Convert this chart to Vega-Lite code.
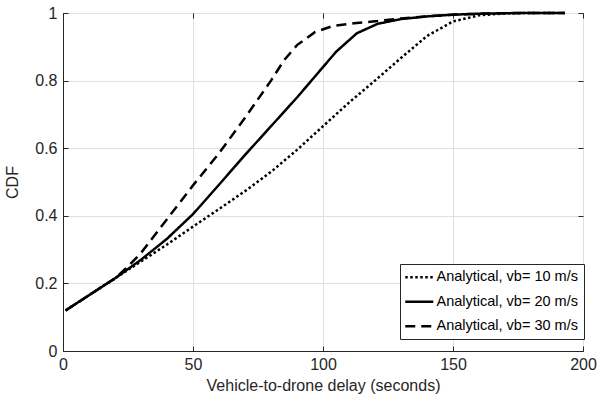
{
  "$schema": "https://vega.github.io/schema/vega-lite/v6.json",
  "width": 520,
  "height": 338,
  "autosize": {"type": "none"},
  "padding": {"left": 63, "top": 13, "right": 27, "bottom": 52},
  "background": "white",
  "config": {
    "font": "Liberation Sans",
    "view": {"stroke": "#262626", "strokeWidth": 1},
    "axis": {
      "domainColor": "#262626",
      "tickColor": "#262626",
      "labelColor": "#262626",
      "titleColor": "#262626",
      "gridColor": "#dfdfdf",
      "gridWidth": 1,
      "labelFont": "Liberation Sans",
      "titleFont": "Liberation Sans",
      "labelFontSize": 16,
      "titleFontSize": 16,
      "titleFontWeight": "normal",
      "tickSize": -5,
      "labelFlush": false
    },
    "legend": {
      "labelFont": "Liberation Sans",
      "labelFontSize": 14.5,
      "labelColor": "#000000"
    }
  },
  "data": {
    "values": [
      {"s": "Analytical, vb= 10 m/s", "x": 1, "y": 0.12},
      {"s": "Analytical, vb= 10 m/s", "x": 10, "y": 0.165},
      {"s": "Analytical, vb= 10 m/s", "x": 20, "y": 0.215},
      {"s": "Analytical, vb= 10 m/s", "x": 30, "y": 0.265},
      {"s": "Analytical, vb= 10 m/s", "x": 40, "y": 0.315},
      {"s": "Analytical, vb= 10 m/s", "x": 50, "y": 0.368},
      {"s": "Analytical, vb= 10 m/s", "x": 60, "y": 0.42},
      {"s": "Analytical, vb= 10 m/s", "x": 70, "y": 0.473},
      {"s": "Analytical, vb= 10 m/s", "x": 80, "y": 0.53},
      {"s": "Analytical, vb= 10 m/s", "x": 90, "y": 0.595},
      {"s": "Analytical, vb= 10 m/s", "x": 100, "y": 0.665},
      {"s": "Analytical, vb= 10 m/s", "x": 110, "y": 0.735},
      {"s": "Analytical, vb= 10 m/s", "x": 120, "y": 0.8},
      {"s": "Analytical, vb= 10 m/s", "x": 130, "y": 0.867},
      {"s": "Analytical, vb= 10 m/s", "x": 140, "y": 0.932},
      {"s": "Analytical, vb= 10 m/s", "x": 150, "y": 0.975},
      {"s": "Analytical, vb= 10 m/s", "x": 160, "y": 0.993},
      {"s": "Analytical, vb= 10 m/s", "x": 170, "y": 0.999},
      {"s": "Analytical, vb= 10 m/s", "x": 180, "y": 1},
      {"s": "Analytical, vb= 10 m/s", "x": 193, "y": 1},
      {"s": "Analytical, vb= 20 m/s", "x": 1, "y": 0.12},
      {"s": "Analytical, vb= 20 m/s", "x": 10, "y": 0.165},
      {"s": "Analytical, vb= 20 m/s", "x": 20, "y": 0.215},
      {"s": "Analytical, vb= 20 m/s", "x": 30, "y": 0.27},
      {"s": "Analytical, vb= 20 m/s", "x": 40, "y": 0.332},
      {"s": "Analytical, vb= 20 m/s", "x": 50, "y": 0.405},
      {"s": "Analytical, vb= 20 m/s", "x": 60, "y": 0.492},
      {"s": "Analytical, vb= 20 m/s", "x": 70, "y": 0.58},
      {"s": "Analytical, vb= 20 m/s", "x": 80, "y": 0.665},
      {"s": "Analytical, vb= 20 m/s", "x": 90, "y": 0.75},
      {"s": "Analytical, vb= 20 m/s", "x": 100, "y": 0.84},
      {"s": "Analytical, vb= 20 m/s", "x": 105, "y": 0.885},
      {"s": "Analytical, vb= 20 m/s", "x": 113, "y": 0.94},
      {"s": "Analytical, vb= 20 m/s", "x": 121, "y": 0.968},
      {"s": "Analytical, vb= 20 m/s", "x": 130, "y": 0.982},
      {"s": "Analytical, vb= 20 m/s", "x": 140, "y": 0.99},
      {"s": "Analytical, vb= 20 m/s", "x": 150, "y": 0.995},
      {"s": "Analytical, vb= 20 m/s", "x": 160, "y": 0.998},
      {"s": "Analytical, vb= 20 m/s", "x": 175, "y": 1},
      {"s": "Analytical, vb= 20 m/s", "x": 193, "y": 1},
      {"s": "Analytical, vb= 30 m/s", "x": 1, "y": 0.12},
      {"s": "Analytical, vb= 30 m/s", "x": 10, "y": 0.165},
      {"s": "Analytical, vb= 30 m/s", "x": 20, "y": 0.215},
      {"s": "Analytical, vb= 30 m/s", "x": 25, "y": 0.25},
      {"s": "Analytical, vb= 30 m/s", "x": 30, "y": 0.29},
      {"s": "Analytical, vb= 30 m/s", "x": 40, "y": 0.39},
      {"s": "Analytical, vb= 30 m/s", "x": 50, "y": 0.49},
      {"s": "Analytical, vb= 30 m/s", "x": 60, "y": 0.585},
      {"s": "Analytical, vb= 30 m/s", "x": 70, "y": 0.69},
      {"s": "Analytical, vb= 30 m/s", "x": 80, "y": 0.8},
      {"s": "Analytical, vb= 30 m/s", "x": 85, "y": 0.86},
      {"s": "Analytical, vb= 30 m/s", "x": 90, "y": 0.905},
      {"s": "Analytical, vb= 30 m/s", "x": 97, "y": 0.944},
      {"s": "Analytical, vb= 30 m/s", "x": 104, "y": 0.962},
      {"s": "Analytical, vb= 30 m/s", "x": 112, "y": 0.97},
      {"s": "Analytical, vb= 30 m/s", "x": 121, "y": 0.976},
      {"s": "Analytical, vb= 30 m/s", "x": 130, "y": 0.984},
      {"s": "Analytical, vb= 30 m/s", "x": 140, "y": 0.99},
      {"s": "Analytical, vb= 30 m/s", "x": 150, "y": 0.995},
      {"s": "Analytical, vb= 30 m/s", "x": 165, "y": 0.999},
      {"s": "Analytical, vb= 30 m/s", "x": 180, "y": 1},
      {"s": "Analytical, vb= 30 m/s", "x": 193, "y": 1}
    ]
  },
  "layer": [
    {
      "mark": {"type": "line", "strokeWidth": 2.5, "color": "black", "strokeJoin": "miter"},
      "encoding": {
        "x": {
          "field": "x", "type": "quantitative",
          "scale": {"domain": [0, 200], "nice": false, "zero": false},
          "axis": {"values": [0, 50, 100, 150, 200], "title": "Vehicle-to-drone delay (seconds)", "grid": true, "labelPadding": 10, "titlePadding": 5}
        },
        "y": {
          "field": "y", "type": "quantitative",
          "scale": {"domain": [0, 1], "nice": false, "zero": false},
          "axis": {"values": [0, 0.2, 0.4, 0.6, 0.8, 1], "format": "~g", "title": "CDF", "grid": true, "labelPadding": 11, "titlePadding": 14}
        },
        "strokeDash": {
          "field": "s", "type": "nominal",
          "scale": {
            "domain": ["Analytical, vb= 10 m/s", "Analytical, vb= 20 m/s", "Analytical, vb= 30 m/s"],
            "range": [[2.5, 2.5], [1, 0], [10, 6]]
          },
          "legend": {
            "title": null,
            "orient": "none",
            "legendX": 337,
            "legendY": 251,
            "fillColor": "white",
            "strokeColor": "#262626",
            "padding": 6,
            "symbolType": "M-3.5,0H3.5",
            "symbolSize": 64,
            "symbolStrokeWidth": 2.5,
            "symbolStrokeColor": "black",
            "symbolOffset": 6,
            "rowPadding": 9.5,
            "labelOffset": 10
          }
        }
      }
    },
    {
      "mark": {"type": "line", "opacity": 0},
      "encoding": {
        "x": {
          "field": "x", "type": "quantitative",
          "scale": {"domain": [0, 200], "nice": false, "zero": false},
          "axis": {"orient": "top", "values": [0, 50, 100, 150, 200], "labels": false, "title": null, "grid": false, "domain": false}
        },
        "y": {
          "field": "y", "type": "quantitative",
          "scale": {"domain": [0, 1], "nice": false, "zero": false},
          "axis": {"orient": "right", "values": [0, 0.2, 0.4, 0.6, 0.8, 1], "labels": false, "title": null, "grid": false, "domain": false}
        }
      }
    }
  ],
  "resolve": {"axis": {"x": "independent", "y": "independent"}}
}
